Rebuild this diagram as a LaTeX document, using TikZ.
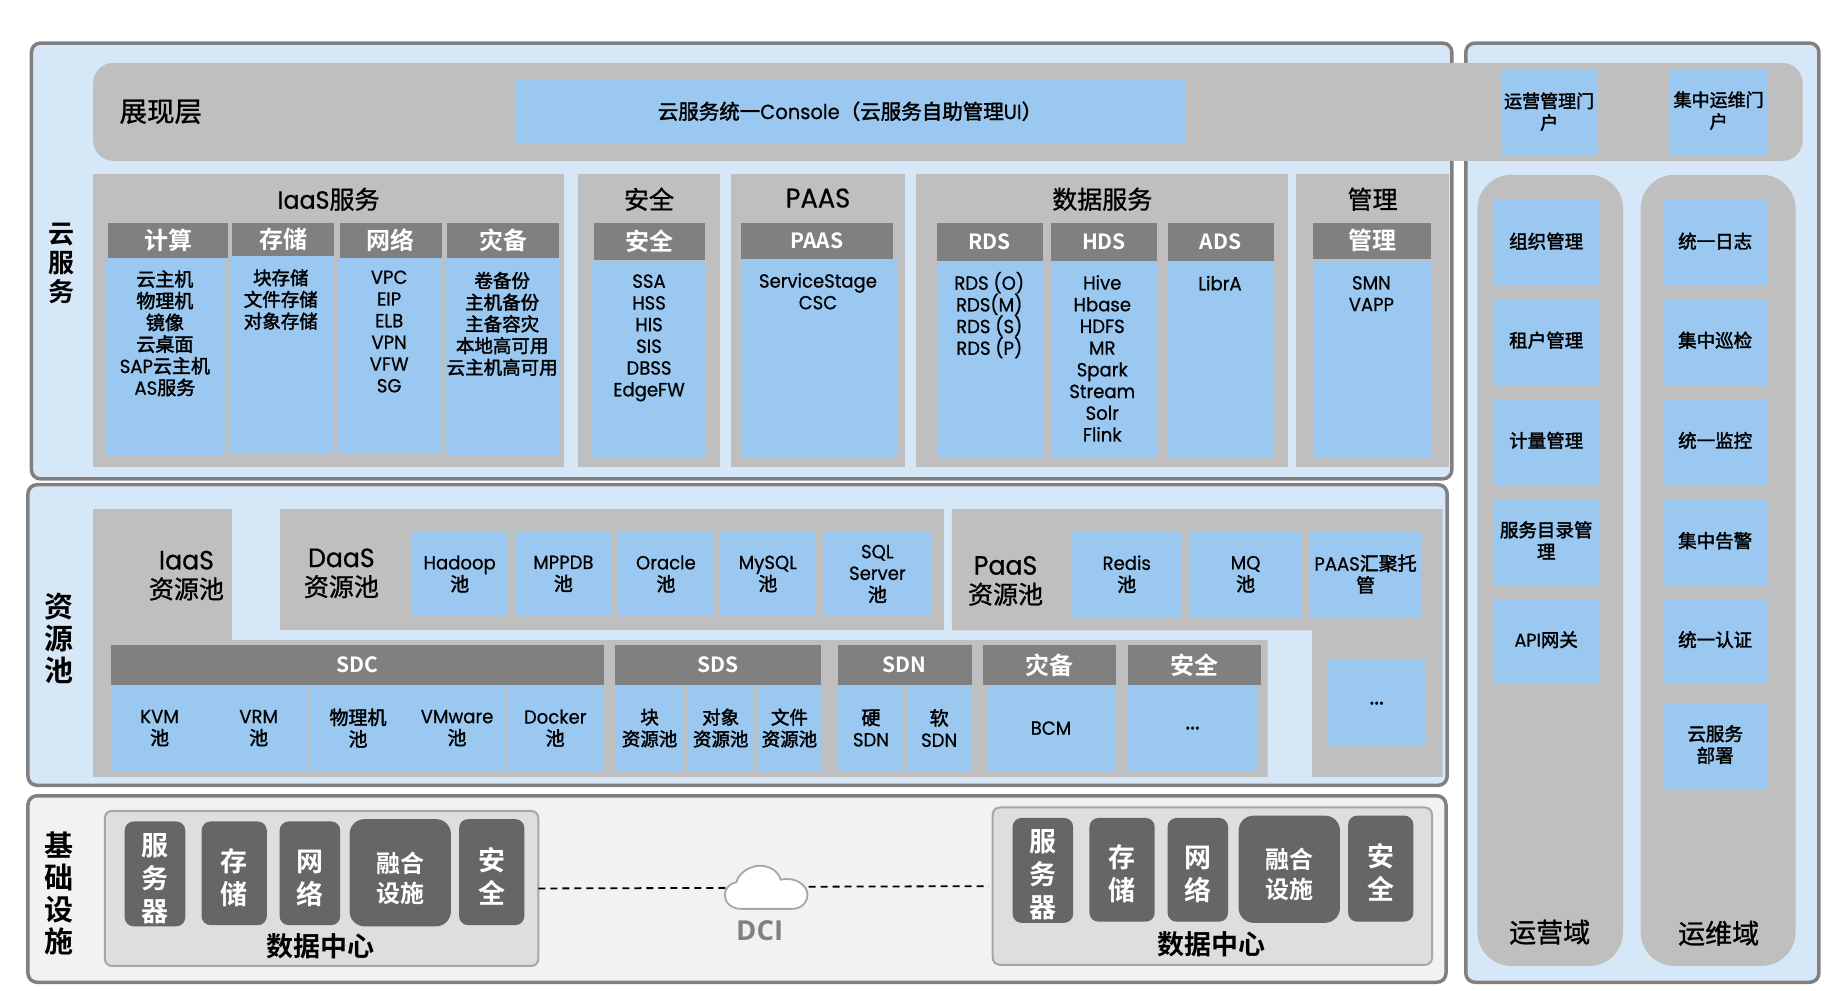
\documentclass[tikz,border=0pt]{standalone}
\usepackage{fontspec}
\setmainfont{Poppins}[FakeStretch=0.95,FakeBold=0.6]
\newfontfamily\cj[FakeBold=2]{Noto Sans CJK SC}
\newfontfamily\cjp[FakeBold=1]{Noto Sans CJK SC}
\newfontfamily\cjb{Noto Sans CJK SC Bold}
\newfontfamily\dcifont{Open Sans}[BoldFont={Open Sans Bold}]
\definecolor{panel}{HTML}{D6E8F8}
\definecolor{pale}{HTML}{F2F2F2}
\definecolor{frameline}{HTML}{808080}
\definecolor{band}{HTML}{BFBFBF}
\definecolor{head}{HTML}{808080}
\definecolor{sky}{HTML}{9AC8F0}
\definecolor{slate}{HTML}{666666}
\definecolor{dcfill}{HTML}{DEDEDE}
\definecolor{dcline}{HTML}{A6A6A6}
\newcommand{\unitf}{1.1652}
% box node given by its two corners
\newcommand{\bx}[6][]{%
  \pgfmathsetmacro{\bw}{(#5-#3)*\unitf}%
  \pgfmathsetmacro{\bh}{(#6-#4)*\unitf}%
  \path ({(#3+#5)/2},{(#4+#6)/2}) node[minimum width=\bw pt,minimum height=\bh pt,inner sep=0pt,outer sep=0pt,align=center,#1] (#2) {};}
% box node carrying a centred label
\newcommand{\bt}[7][]{%
  \pgfmathsetmacro{\bw}{(#5-#3)*\unitf}%
  \pgfmathsetmacro{\bh}{(#6-#4)*\unitf}%
  \path ({(#3+#5)/2},{(#4+#6)/2}) node[minimum width=\bw pt,minimum height=\bh pt,inner sep=0pt,outer sep=0pt,align=center,#1] (#2) {#7};}
% CJK run at the size of the pool titles
\newcommand{\poolcj}[1]{{\fontsize{25}{29}\selectfont\cjp #1}}
% taller first line, sets a stacked label a little lower in its box
\newcommand{\lowr}{\rule{0pt}{31pt}}
\tikzset{
  frame/.style={draw=frameline,line width=3.5pt,rounded corners=9pt},
  panelbox/.style={frame,fill=panel},
  palebox/.style={frame,fill=pale},
  greybox/.style={fill=band},
  headbox/.style={fill=head,text=white,font=\fontsize{24}{28}\selectfont\cjb},
  latinhead/.style={headbox,font=\fontsize{21}{26}\selectfont\cjb},
  skybox/.style={fill=sky,font=\fontsize{19}{21.7}\selectfont},
  cjkbox/.style={skybox,font=\fontsize{18.5}{21.7}\selectfont\cj},
  morebox/.style={skybox,font=\fontsize{24}{24}\selectfont},
  textup/.style={execute at end node={\rule[-#1]{0pt}{0pt}}},
  slatebox/.style={fill=slate,text=white,rounded corners=9pt,font=\fontsize{27}{33}\selectfont\cjb},
  convbox/.style={slatebox,rounded corners=15pt,font=\fontsize{24}{30}\selectfont\cjb},
  dcbox/.style={fill=dcfill,draw=dcline,line width=2pt,rounded corners=7pt},
  listtext/.style={align=center,inner sep=0pt,font=\fontsize{19}{21.7}\selectfont},
  cjklist/.style={listtext,font=\fontsize{18.5}{21.7}\selectfont\cj},
  titletext/.style={align=center,inner sep=0pt,font=\fontsize{25}{28}\selectfont\cjp},
  pooltitle/.style={align=center,inner sep=0pt,font=\fontsize{26.5}{29}\selectfont},
  sidetext/.style={align=center,inner sep=0pt,font=\fontsize{29}{32}\selectfont\cjb},
  domaintext/.style={align=center,inner sep=0pt,font=\fontsize{27}{32}\selectfont\cjp},
  dctext/.style={inner sep=0pt,font=\fontsize{27}{32}\selectfont\cjb},
  link/.style={line width=1.8pt,dash pattern=on 7pt off 5pt,black},
}
\begin{document}
\begin{tikzpicture}[x=1.1652pt,y=-1.1652pt]
\useasboundingbox (0,0) rectangle (1568,850.5);

% outer frames
\bx[panelbox]{cloudframe}{27}{37}{1246}{411}
\bx[panelbox]{poolframe}{24}{416}{1242}{674}
\bx[palebox]{infraframe}{24}{683}{1241}{843}
\bx[panelbox]{sideframe}{1258}{37}{1561}{843}

% presentation layer
\bx[greybox,rounded corners=20pt]{showband}{80}{54}{1547}{138}
\node[inner sep=0pt,font=\fontsize{27.5}{30}\selectfont\cjp] (showlabel) at (138,96) {展现层};
\bt[skybox,font=\fontsize{20.5}{24}\selectfont]{console}{442}{68}{1017}{123}{{\cj 云服务统一}Console{\cj （云服务自助管理}UI{\cj ）}}
\bt[cjkbox,font=\fontsize{18}{21.7}\selectfont\cj,textup=4pt]{opsportal}{1288}{60}{1371}{134}{运营管理门\\户}
\bt[cjkbox,font=\fontsize{18}{21.7}\selectfont\cj,textup=4pt]{maintportal}{1433}{59}{1517}{133}{集中运维门\\户}

% cloud services layer
\node[sidetext,font=\fontsize{26}{29.3}\selectfont\cjb] (cloudside) at (53,226) {云\\服\\务};
\bx[greybox]{iaasgroup}{80}{149}{484}{401}
\bx[greybox]{secgroup}{496}{149}{618}{401}
\bx[greybox]{paasgroup}{627}{149}{777}{401}
\bx[greybox]{datagroup}{786}{149}{1105}{401}
\bx[greybox]{mgmtgroup}{1112}{149}{1244}{401}
\node[titletext] (iaastitle) at (282,171) {{\rmfamily IaaS}服务};
\node[titletext] (sectitle) at (557,171) {安全};
\node[titletext,font=\fontsize{27}{28}\selectfont] (paastitle) at (702,170) {PAAS};
\node[titletext] (datatitle) at (946,171) {数据服务};
\node[titletext] (mgmttitle) at (1178,171) {管理};

\bx[skybox]{computebody}{90}{221}{193}{391}
\bx[skybox]{storebody}{197.5}{219.5}{287}{389}
\bx[skybox]{netbody}{290}{221}{379}{390}
\bx[skybox]{drbody}{383}{221}{480}{391}
\bt[headbox]{computehead}{93}{191}{196}{221.5}{计算}
\bt[headbox]{storehead}{199}{191}{287}{219.5}{存储}
\bt[headbox]{nethead}{292}{191}{379}{221.5}{网络}
\bt[headbox]{drhead}{384}{191}{480}{221.5}{灾备}
\node[listtext] (computelist) at (141.5,286) {{\cj 云主机}\\{\cj 物理机}\\{\cj 镜像}\\{\cj 云桌面}\\SAP{\cj 云主机}\\AS{\cj 服务}};
\node[cjklist] (storelist) at (241,257) {块存储\\文件存储\\对象存储};
\node[listtext] (netlist) at (334,284.5) {VPC\\EIP\\ELB\\VPN\\VFW\\SG};
\node[cjklist] (drlist) at (431,278) {卷备份\\主机备份\\主备容灾\\本地高可用\\云主机高可用};

\bx[skybox]{secbody}{507}{224}{605}{392}
\bt[headbox]{sechead}{510}{191}{605}{223}{安全}
\node[listtext] (seclist) at (557,290) {SSA\\HSS\\HIS\\SIS\\DBSS\\EdgeFW};

\bx[skybox]{paasbody}{636}{223}{770}{392}
\bt[latinhead]{paashead}{636}{191}{766}{222}{PAAS}
\node[listtext] (paaslist) at (702,250) {ServiceStage\\CSC};

\bx[skybox]{rdsbody}{804}{225}{895}{392}
\bx[skybox]{hdsbody}{902}{225}{993}{392}
\bx[skybox]{adsbody}{1002}{225}{1093}{392}
\bt[latinhead]{rdshead}{804}{191}{895}{224}{RDS}
\bt[latinhead]{hdshead}{902}{191}{993}{224}{HDS}
\bt[latinhead]{adshead}{1002}{191}{1093}{224}{ADS}
\node[listtext] (rdslist) at (849,270.5) {RDS (O)\\RDS(M)\\RDS (S)\\RDS (P)};
\node[listtext] (hdslist) at (946,307.5) {Hive\\Hbase\\HDFS\\MR\\Spark\\Stream\\Solr\\Flink};
\node[listtext] (adslist) at (1047,243) {LibrA};

\bx[skybox]{mgmtbody}{1127}{224}{1228}{392}
\bt[headbox]{mgmthead}{1127}{191}{1228}{222}{管理}
\node[listtext] (mgmtlist) at (1177,252) {SMN\\VAPP};

% resource pool layer
\node[sidetext] (poolside) at (51,548) {资\\源\\池};
\fill[band] (80,437) -- (199,437) -- (199,549.3) -- (1088,549.3) -- (1088,666.7) -- (80,666.7) -- cycle;
\bx[greybox]{daasgroup}{240}{437}{810}{541}
\fill[band] (817,437) -- (1238,437) -- (1238,666.7) -- (1126,666.7) -- (1126,541) -- (817,541) -- cycle;
\node[pooltitle] (iaaspool) at (160,494) {IaaS\\\poolcj{资源池}};
\node[pooltitle] (daaspool) at (293,492) {DaaS\\\poolcj{资源池}};
\node[pooltitle] (paaspool) at (863,498.5) {PaaS\\\poolcj{资源池}};

\bt[skybox]{hadoop}{353}{456}{436}{529}{Hadoop\\{\cj 池}}
\bt[skybox]{mppdb}{442}{456}{525}{529}{MPPDB\\{\cj 池}}
\bt[skybox]{oracle}{530}{456}{613}{529}{Oracle\\{\cj 池}}
\bt[skybox]{mysql}{618}{456}{700}{529}{MySQL\\{\cj 池}}
\bt[skybox]{sqlserver}{706}{456}{800}{529}{SQL\\Server\\{\cj 池}}
\bt[skybox]{redis}{919.5}{456}{1014.5}{529.5}{Redis\\{\cj 池}}
\bt[skybox]{mq}{1021.5}{456}{1116.5}{529.5}{MQ\\{\cj 池}}
\bt[skybox]{paashost}{1124.5}{456}{1219.5}{529.5}{PAAS{\cj 汇聚托}\\{\cj 管}}
\bt[morebox]{paasmore}{1140}{566.5}{1223}{640.5}{...}

\bt[latinhead]{sdchead}{95}{553.6}{518}{588}{SDC}
\bt[latinhead]{sdshead}{528}{553.6}{705}{588}{SDS}
\bt[latinhead]{sdnhead}{719}{553.6}{834}{588}{SDN}
\bt[headbox]{pooldrhead}{844}{553.6}{958}{588}{灾备}
\bt[headbox]{poolsechead}{968}{553.6}{1082}{588}{安全}
\bt[skybox]{kvm}{95}{588}{179}{661.7}{KVM\\{\cj 池}}
\bt[skybox]{vrm}{180}{588}{264}{661.7}{VRM\\{\cj 池}}
\bt[skybox]{bare}{265}{588}{349.5}{661.7}{{\cj 物理机}\\{\cj 池}}
\bt[skybox]{vmware}{350.5}{588}{434}{661.7}{VMware\\{\cj 池}}
\bt[skybox]{docker}{435}{588}{518}{661.7}{Docker\\{\cj 池}}
\bt[cjkbox]{blockpool}{528}{588}{587}{661.7}{块\\资源池}
\bt[cjkbox]{objectpool}{590}{588}{647}{661.7}{对象\\资源池}
\bt[cjkbox]{filepool}{650}{588}{705}{661.7}{文件\\资源池}
\bt[skybox]{hardsdn}{719}{588}{776}{661.7}{{\cj 硬}\\SDN}
\bt[skybox]{softsdn}{778}{588}{834}{661.7}{{\cj 软}\\SDN}
\bt[skybox]{bcm}{847}{588}{957}{661.7}{BCM}
\bt[morebox]{secmore}{968}{588}{1079}{661.7}{...}

% infrastructure layer
\node[sidetext] (infraside) at (51,766.5) {基\\础\\设\\施};
\bx[dcbox]{dca}{90}{696}{462}{829}
\bt[slatebox]{dcaserver}{107}{705}{159}{795}{\lowr 服\\务\\器}
\bt[slatebox]{dcastore}{173}{705}{229}{794}{\lowr 存\\储}
\bt[slatebox]{dcanet}{240}{705}{292}{794}{\lowr 网\\络}
\bt[convbox]{dcaconv}{300}{703}{387}{795}{\lowr 融合\\设施}
\bt[slatebox]{dcasec}{394}{703}{450}{794}{\lowr 安\\全}
\node[dctext] (dcalabel) at (275,812) {数据中心};
\bx[dcbox]{dcb}{852}{693}{1229}{828}
\bt[slatebox]{dcbserver}{869}{702}{921}{792}{\lowr 服\\务\\器}
\bt[slatebox]{dcbstore}{935}{702}{991}{791}{\lowr 存\\储}
\bt[slatebox]{dcbnet}{1002}{702}{1054}{791}{\lowr 网\\络}
\bt[convbox]{dcbconv}{1063}{700}{1150}{792}{\lowr 融合\\设施}
\bt[slatebox]{dcbsec}{1157}{700}{1213}{791}{\lowr 安\\全}
\node[dctext] (dcblabel) at (1040,810) {数据中心};

% interconnect between the two data centres
\coordinate (dciwest) at (624,762);
\coordinate (dcieast) at (694,761);
\draw[link] (dca.east) -- (dciwest);
\draw[link,shorten >=4pt] (dcieast) -- (dcb.west);
\draw[fill=white,draw=dcline,line width=1.8pt]
  (636,780) .. controls (627,780) and (622,774) .. (622,768)
  .. controls (622,762) and (627,758) .. (632,757)
  .. controls (634,749) and (644,743) .. (652,743)
  .. controls (661,743) and (668,748) .. (670,755)
  .. controls (683,752) and (693,760) .. (693,768)
  .. controls (693,775) and (687,780) .. (680,780) -- cycle;
\node[inner sep=0pt,text=frameline,font=\fontsize{27.5}{30}\selectfont\dcifont\bfseries] (dcilabel) at (652,799) {DCI};

% operations and maintenance domains
\bx[greybox,rounded corners=34pt]{opsdomain}{1268}{150}{1393}{829}
\bx[greybox,rounded corners=34pt]{maintdomain}{1408}{150}{1541}{829}
\tikzset{sidecell/.style={cjkbox,textup=5pt}}
\bt[sidecell]{orgmgmt}{1282}{172}{1372}{245}{组织管理}
\bt[sidecell]{tenant}{1282}{257}{1372}{330}{租户管理}
\bt[sidecell]{metering}{1282}{343}{1372}{416}{计量管理}
\bt[sidecell]{catalog}{1282}{429}{1372}{502}{服务目录管\\理}
\bt[sidecell]{apigw}{1282}{514}{1372}{587}{{\rmfamily API}网关}
\bt[sidecell]{logs}{1427}{172}{1517}{245}{统一日志}
\bt[sidecell]{patrol}{1427}{257}{1517}{330}{集中巡检}
\bt[sidecell]{monitor}{1427}{343}{1517}{416}{统一监控}
\bt[sidecell]{alarm}{1427}{429}{1517}{502}{集中告警}
\bt[sidecell]{auth}{1427}{514}{1517}{587}{统一认证}
\bt[sidecell]{deploy}{1427}{604}{1517}{677}{云服务\\部署}
\node[domaintext] (opslabel) at (1330,800) {运营域};
\node[domaintext] (maintlabel) at (1475,801) {运维域};
\end{tikzpicture}
\end{document}
